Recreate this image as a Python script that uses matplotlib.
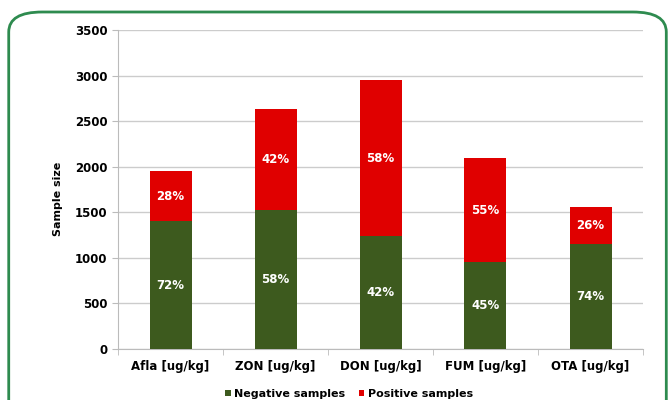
import matplotlib.pyplot as plt
from matplotlib.patches import FancyBboxPatch
import numpy as np

categories = ["Afla [ug/kg]", "ZON [ug/kg]", "DON [ug/kg]", "FUM [ug/kg]", "OTA [ug/kg]"]
negative = [1400, 1520, 1240, 950, 1150]
positive = [550, 1110, 1710, 1150, 405]
neg_labels = ["72%", "58%", "42%", "45%", "74%"]
pos_labels = ["28%", "42%", "58%", "55%", "26%"]

green = "#3d5a1e"
red = "#e00000"

fig = plt.figure(figsize=(6.71, 4.0), dpi=100)
# rounded green frame around the chart
fig.patches.append(FancyBboxPatch((0.013, -0.05), 0.98, 1.02, boxstyle="round,pad=0,rounding_size=0.05",
                                  transform=fig.transFigure, facecolor="none",
                                  edgecolor="#2e8b4f", linewidth=2, zorder=-1))
ax = fig.add_axes([118 / 671, 51 / 400, 525 / 671, 319 / 400])
ax.set_facecolor("none")

x = np.arange(len(categories))
ax.bar(x, negative, width=0.4, color=green, label="Negative samples", zorder=3)
ax.bar(x, positive, width=0.4, bottom=negative, color=red, label="Positive samples", zorder=3)

for i in range(len(x)):
    ax.text(x[i], negative[i] / 2, neg_labels[i], ha="center", va="center",
            color="white", fontsize=8.5, fontweight="bold", zorder=4)
    ax.text(x[i], negative[i] + positive[i] / 2, pos_labels[i], ha="center", va="center",
            color="white", fontsize=8.5, fontweight="bold", zorder=4)

ax.set_xlim(-0.5, len(x) - 0.5)
ax.set_ylim(0, 3500)
ax.set_yticks(range(0, 3501, 500))
ax.set_xticks(x)
ax.set_xticklabels(categories, fontsize=8.5, fontweight="bold")
ax.set_xticks(np.arange(-0.5, len(x), 1), minor=True)
ax.tick_params(axis="x", which="major", length=0, pad=8)
ax.tick_params(axis="x", which="minor", length=4, color="#bbbbbb")
ax.tick_params(axis="y", length=4, color="#bbbbbb", labelsize=8.5)
for lab in ax.get_yticklabels():
    lab.set_fontweight("bold")
ax.yaxis.grid(True, color="#cccccc", linewidth=1, zorder=0)
for s in ["top", "right"]:
    ax.spines[s].set_visible(False)
ax.spines["left"].set_color("#bbbbbb")
ax.spines["bottom"].set_color("#bbbbbb")
ax.set_ylabel("Sample size", fontsize=8, fontweight="bold", labelpad=8)
ax.yaxis.set_label_coords(-0.105, 0.47)

ax.legend(loc="upper center", bbox_to_anchor=(0.44, -0.1), ncol=2, frameon=False,
          prop={"weight": "bold", "size": 8}, handlelength=0.5,
          handleheight=0.5, columnspacing=1.2, handletextpad=0.3, borderpad=0.2)

fig.savefig("out.png", dpi=100)
